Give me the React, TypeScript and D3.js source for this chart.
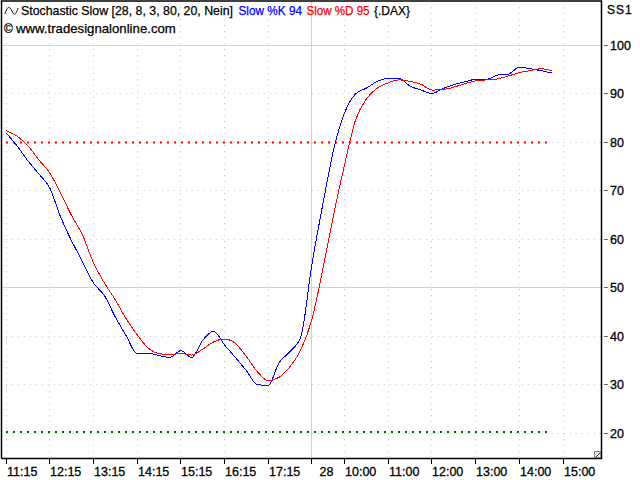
// Stochastic Slow oscillator panel, drawn with d3 scales and line generators
import * as d3 from "d3"

const slowK = [
  82.0, 79.3, 76.2, 73.5, 70.6, 64.6, 59.7, 55.4, 51.0, 48.4, 44.0, 40.1, 36.4, 36.5, 36.0, 35.6, 37.0,
  35.6, 39.1, 41.0, 38.2, 35.6, 32.9, 30.0, 29.8, 34.5, 36.8, 39.9, 54.7, 67.1, 78.5, 86.1, 90.0, 91.2,
  92.6, 93.2, 93.2, 91.6, 90.8, 90.1, 91.1, 91.9, 92.5, 93.0, 93.0, 93.9, 94.1, 95.5, 95.2, 94.8, 94.3,
]
const slowD = [
  82.4, 81.3, 79.3, 76.4, 73.7, 69.5, 64.9, 60.9, 55.2, 51.0, 47.5, 43.6, 40.3, 37.6, 36.4, 36.2, 36.4,
  36.1, 37.3, 38.8, 39.4, 38.5, 35.8, 32.7, 30.8, 31.5, 33.7, 37.2, 43.4, 53.7, 65.1, 75.4, 84.6, 89.0,
  91.2, 92.3, 92.9, 92.6, 92.0, 90.8, 90.9, 91.4, 92.1, 92.7, 92.9, 93.1, 93.7, 94.4, 94.8, 95.2, 94.8,
]
const yTicks = [100, 90, 80, 70, 60, 50, 40, 30, 20]
const solidY = [100, 50]
const xLabels = ["11:15", "12:15", "13:15", "14:15", "15:15", "16:15", "17:15", "28", "10:00", "11:00", "12:00", "13:00", "14:00", "15:00"]
const xBars = [0, 4, 8, 12, 16, 20, 24, 28, 31, 35, 39, 43, 47, 51]
const upperLevel = 80
const lowerLevel = 20
const levelEndBar = 49.7

const FONT = "'Liberation Sans', Arial, sans-serif"

export default function App() {
  const x = d3.scaleLinear().domain([0, 51]).range([6, 563])
  const y = d3.scaleLinear().domain([20, 100]).range([433, 45.5])

  const line = d3.line<number>()
    .x((_, i) => x(i))
    .y((d) => y(d))
    .curve(d3.curveMonotoneX)

  const plot = { left: 1.5, right: 601.5, top: 1, bottom: 458.5 }
  const snap = (v: number) => Math.floor(v) + 0.5

  return (
    <svg
      width={640}
      height={480}
      style={{ position: "fixed", left: 0, top: 0, background: "#fff" }}
      fontFamily={FONT}
    >
      {/* grid */}
      {yTicks.map((t) => (
        <line
          key={t}
          x1={solidY.includes(t) ? plot.left : 6}
          x2={plot.right}
          y1={snap(y(t))}
          y2={snap(y(t))}
          stroke={solidY.includes(t) ? "#cfcfcf" : "#cccccc"}
          strokeDasharray={solidY.includes(t) ? undefined : "1 5"}
        />
      ))}
      {xBars.map((b, i) => (
        <line
          key={b}
          x1={snap(x(b))}
          x2={snap(x(b))}
          y1={plot.top}
          y2={plot.bottom}
          stroke={xLabels[i] === "28" ? "#cfcfcf" : "#cccccc"}
          strokeDasharray={xLabels[i] === "28" ? undefined : "1 5"}
        />
      ))}

      {/* overbought / oversold levels */}
      <line x1={x(0)} x2={x(levelEndBar)} y1={y(upperLevel)} y2={y(upperLevel)} stroke="#ff0000" strokeWidth={2} strokeDasharray="2 5" />
      <line x1={x(0)} x2={x(levelEndBar)} y1={y(lowerLevel) - 1} y2={y(lowerLevel) - 1} stroke="#006400" strokeWidth={2} strokeDasharray="2 5" />

      {/* series */}
      <path d={line(slowK) ?? ""} fill="none" stroke="#0000ff" strokeWidth={1} shapeRendering="crispEdges" />
      <path d={line(slowD) ?? ""} fill="none" stroke="#ff0000" strokeWidth={1} shapeRendering="crispEdges" />

      {/* frame */}
      <path
        d={`M${plot.left},${plot.bottom}V${plot.top}H${plot.right}V${plot.bottom}H${plot.left}`}
        fill="none"
        stroke="#000"
        strokeWidth={1.5}
      />

      {/* resize corner */}
      <rect x={594.5} y={451.5} width={6} height={6} fill="#e8e8e8" stroke="#888" />
      <path d="M595.5,457.5L600.5,452.5" stroke="#333" />

      {/* y axis */}
      {yTicks.map((t) => (
        <g key={t} transform={`translate(0,${snap(y(t))})`}>
          <line x1={604} x2={608} stroke="#666" />
          <text x={610} y={4.5} fontSize={12.5} fill="#000" stroke="#000" strokeWidth={0.3}>{t}</text>
        </g>
      ))}
      <text x={607} y={14} fontSize={12} fill="#000" stroke="#000" strokeWidth={0.3} letterSpacing={1}>SS1</text>

      {/* x axis */}
      {xBars.map((b, i) => (
        <g key={b} transform={`translate(${snap(x(b))},0)`}>
          <line y1={459} y2={464} stroke="#000" />
          <text x={xLabels[i] === "28" ? 8 : 0.5} y={476} fontSize={12.5} fill="#000" stroke="#000" strokeWidth={0.3}>{xLabels[i]}</text>
        </g>
      ))}

      {/* header */}
      <path d="M5,14C7,6 10,6 12,11S16,15 18,8" fill="none" stroke="#000" />
      <text x={21} y={15} fontSize={12.35} fill="#000" stroke="#000" strokeWidth={0.25}>Stochastic Slow [28, 8, 3, 80, 20, Nein]</text>
      <text x={238.5} y={15} fontSize={12.35} fill="#0000ff" stroke="#0000ff" strokeWidth={0.25} textLength={63.5} lengthAdjust="spacingAndGlyphs">Slow %K 94</text>
      <text x={306.5} y={15} fontSize={12.35} fill="#ff0000" stroke="#ff0000" strokeWidth={0.25} textLength={63} lengthAdjust="spacingAndGlyphs">Slow %D 95</text>
      <text x={374} y={15} fontSize={12.35} fill="#000" stroke="#000" strokeWidth={0.25} textLength={36} lengthAdjust="spacingAndGlyphs">{"{.DAX}"}</text>
      <text x={4} y={33} fontSize={12} fill="#000" stroke="#000" strokeWidth={0.25}>©</text>
      <text x={16} y={33} fontSize={13.2} fill="#000" stroke="#000" strokeWidth={0.25}>www.tradesignalonline.com</text>
    </svg>
  )
}
